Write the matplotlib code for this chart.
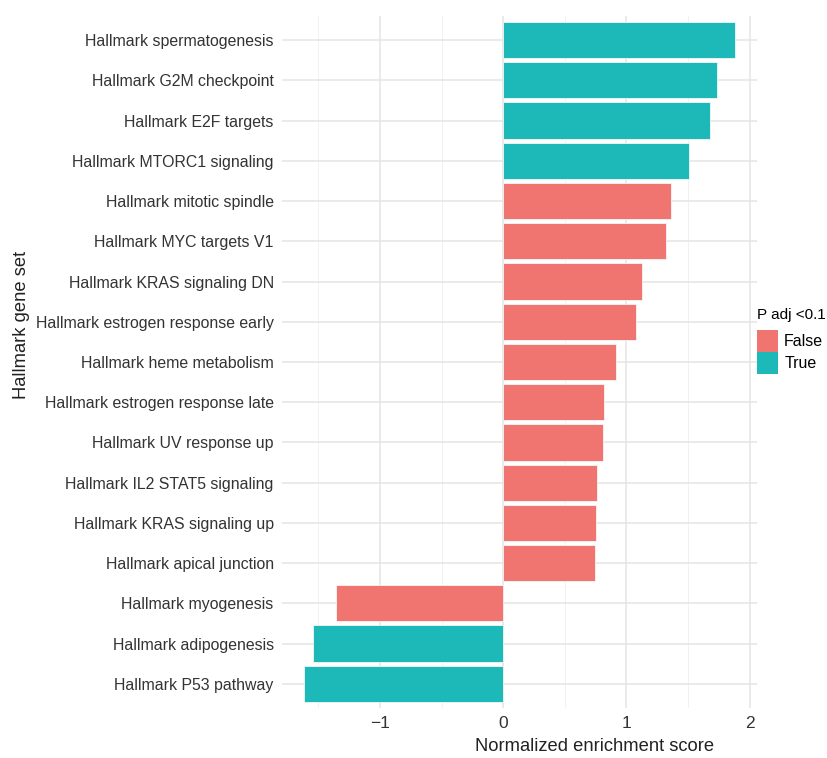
import matplotlib.pyplot as plt
from matplotlib.patches import Patch

plt.rcParams['font.family'] = ['Liberation Sans', 'DejaVu Sans']

# gene sets, top to bottom as in the chart
gene_sets = [
    "Hallmark spermatogenesis",
    "Hallmark G2M checkpoint",
    "Hallmark E2F targets",
    "Hallmark MTORC1 signaling",
    "Hallmark mitotic spindle",
    "Hallmark MYC targets V1",
    "Hallmark KRAS signaling DN",
    "Hallmark estrogen response early",
    "Hallmark heme metabolism",
    "Hallmark estrogen response late",
    "Hallmark UV response up",
    "Hallmark IL2 STAT5 signaling",
    "Hallmark KRAS signaling up",
    "Hallmark apical junction",
    "Hallmark myogenesis",
    "Hallmark adipogenesis",
    "Hallmark P53 pathway",
]
nes = [1.885, 1.735, 1.675, 1.505, 1.365, 1.324, 1.13, 1.074, 0.917,
       0.817, 0.809, 0.764, 0.752, 0.748, -1.354, -1.542, -1.62]
padj_sig = [True, True, True, True, False, False, False, False, False,
            False, False, False, False, False, False, True, True]

col_false = "#F07570"
col_true = "#1DB9B9"

fig = plt.figure(figsize=(8.28, 7.58), dpi=100)
ax = fig.add_axes([0.3406, 0.066, 0.5737, 0.9129])

n = len(gene_sets)
ypos = list(range(n - 1, -1, -1))
colors = [col_true if s else col_false for s in padj_sig]
ax.barh(ypos, nes, height=0.9, color=colors, edgecolor="#f6f6f6", linewidth=0.6, zorder=3)

ax.set_yticks(ypos)
ax.set_yticklabels(gene_sets, fontsize=11.4, color="#333333")
ax.set_ylim(-0.6, n - 1 + 0.6)
lo, hi = min(nes), max(nes)
pad = (hi - lo) * 0.05
ax.set_xlim(lo - pad, hi + pad)
ax.set_xticks([-1, 0, 1, 2])
ax.set_xticklabels(["\u22121", "0", "1", "2"], fontsize=12.5, color="#333333")
ax.set_xticks([-1.5, -0.5, 0.5, 1.5], minor=True)

ax.grid(True, which="major", color="#e4e4e4", linewidth=1.1, zorder=0)
ax.grid(True, which="minor", axis="x", color="#efefef", linewidth=0.6, zorder=0)
ax.tick_params(which="both", length=0, pad=6)
for sp in ax.spines.values():
    sp.set_visible(False)

ax.set_xlabel("Normalized enrichment score", fontsize=13.2, color="#222222")
ax.xaxis.set_label_coords(0.657, -0.043)
ax.set_ylabel("Hallmark gene set", fontsize=13.2, color="#222222")
ax.yaxis.set_label_coords(-0.531, 0.553)

handles = [Patch(facecolor=col_false, label="False"), Patch(facecolor=col_true, label="True")]
leg = fig.legend(handles=handles, title="P adj <0.1", loc="upper left",
                 bbox_to_anchor=(0.9085, 0.6003), frameon=False, fontsize=11.5,
                 title_fontsize=11, handlelength=1.3, handleheight=1.7,
                 handletextpad=0.4, labelspacing=0.05, borderaxespad=0,
                 borderpad=0.3)
leg._legend_box.align = "left"
leg._legend_box.sep = 6

fig.savefig("out.png", dpi=100)
